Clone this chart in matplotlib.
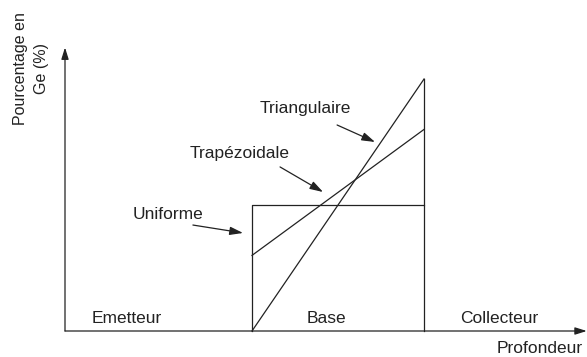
import matplotlib
matplotlib.use('Agg')
import matplotlib.pyplot as plt

plt.rcParams['font.family'] = ['Liberation Sans', 'DejaVu Sans']

# profondeur (unites arbitraires): debut et fin de la base
base_start = 1.0
base_end = 1.92
depth_max = 2.79
ge_max = 2.25

# profils de Ge (%) : [debut de base, fin de base]
uniforme = [1.0, 1.0]
trapezoidale = [0.6, 1.6]
triangulaire = [0.0, 2.0]

regions = ['Emetteur', 'Base', 'Collecteur']
region_x = [0.33, 1.40, 2.32]

ink = '#222222'

fig = plt.figure(figsize=(5.87, 3.57), dpi=100)
ax = fig.add_axes([0, 0, 1, 1])
ax.set_xlim(-65 / 187, 522 / 187)
ax.set_ylim(-26 / 126, 331 / 126)
ax.axis('off')

# axes avec fleches
arrow = dict(arrowstyle='-|>,head_length=0.7,head_width=0.22', color=ink, lw=0.9,
             shrinkA=0, shrinkB=0)
ax.annotate('', xy=(depth_max, 0), xytext=(0, 0), arrowprops=arrow)
ax.annotate('', xy=(0, ge_max), xytext=(0, 0), arrowprops=arrow)

# profils
bx = [base_start, base_end]
ax.plot([base_start, base_start, base_end, base_end],
        [0, uniforme[0], uniforme[1], 0], color=ink, lw=0.9)
ax.plot([base_end, base_end], [uniforme[1], triangulaire[1]], color=ink, lw=0.9)
ax.plot(bx, trapezoidale, color=ink, lw=0.9)
ax.plot(bx, triangulaire, color=ink, lw=0.9)

# etiquettes des regions
for name, x in zip(regions, region_x):
    ax.text(x, 0.10, name, ha='center', va='center', fontsize=12.5, color=ink)

ax.text(2.31, -0.195, 'Profondeur', ha='left', va='bottom', fontsize=12.5, color=ink)
ax.text(-0.182, 2.08, 'Pourcentage en\nGe (%)', rotation=90, ha='center', va='center',
        fontsize=11.5, color=ink, linespacing=1.45, multialignment='center')

# annotations des profils
lbl_arrow = dict(arrowstyle='-|>,head_length=0.8,head_width=0.25', color=ink, lw=0.9,
                 shrinkA=0, shrinkB=0)
ax.text(1.283, 1.762, 'Triangulaire', ha='center', va='center', fontsize=12.5, color=ink)
ax.annotate('', xy=(1.658, 1.50), xytext=(1.455, 1.635), arrowprops=lbl_arrow)
ax.text(0.936, 1.405, 'Trapézoidale', ha='center', va='center', fontsize=12.5, color=ink)
ax.annotate('', xy=(1.380, 1.103), xytext=(1.150, 1.302), arrowprops=lbl_arrow)
ax.text(0.551, 0.921, 'Uniforme', ha='center', va='center', fontsize=12.5, color=ink)
ax.annotate('', xy=(0.952, 0.778), xytext=(0.684, 0.841), arrowprops=lbl_arrow)

fig.savefig('out.png', dpi=100)
